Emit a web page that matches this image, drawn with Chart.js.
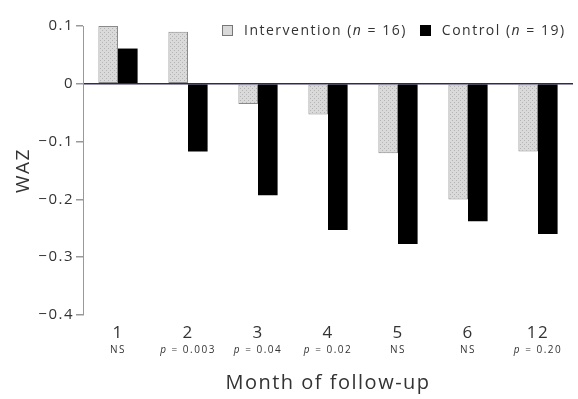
<!DOCTYPE html>
<html>
<head>
<meta charset="utf-8">
<script src="https://cdn.jsdelivr.net/npm/chart.js@4/dist/chart.umd.min.js"></script>
<style>
    html, body { margin: 0; padding: 0; background: #fff; }
    #wrap { position: relative; width: 578px; height: 399px; }
    #legend {
        position: absolute; top: 20px; left: 222px;
        font-family: "Open Sans", sans-serif; font-size: 14px; color: #333;
        letter-spacing: 1.5px; white-space: nowrap;
    }
    #legend span.box {
        display: inline-block; width: 11px; height: 11px; vertical-align: -1px;
        margin-right: 11px; box-sizing: border-box;
    }
    #legend .int { background: #d9d9d9; border: 1px solid #777; }
    #legend .ctl { background: #000; margin-left: 13px; }
</style>
</head>
<body>
<div id="wrap">
    <canvas id="chart" width="578" height="399"></canvas>
    <div id="legend">
        <span class="box int"></span>Intervention (<i>n</i> = 16)<span class="box ctl"></span>Control (<i>n</i> = 19)
    </div>
</div>
<script>
// Dados do gráfico
const months = ['1', '2', '3', '4', '5', '6', '12'];
const pValues = ['NS', 'p = 0.003', 'p = 0.04', 'p = 0.02', 'NS', 'NS', 'p = 0.20'];
const intervention = [0.10, 0.09, -0.035, -0.053, -0.12, -0.20, -0.117];
const control = [0.061, -0.117, -0.193, -0.253, -0.277, -0.238, -0.26];
const yTicks = [0.1, 0, -0.1, -0.2, -0.3, -0.4];

const FONT = '"Open Sans", sans-serif';

// Padrão pontilhado das barras de intervenção
function makePattern() {
    const c = document.createElement('canvas');
    c.width = 4; c.height = 4;
    const g = c.getContext('2d');
    g.fillStyle = '#dadada';
    g.fillRect(0, 0, 4, 4);
    g.fillStyle = '#b4b4b4';
    g.fillRect(0, 0, 1, 1);
    g.fillRect(2, 2, 1, 1);
    return g.createPattern(c, 'repeat');
}

// Espaçamento entre letras um pouco mais largo, como no original
const spacing = {
    id: 'spacing',
    beforeDraw(chart) { chart.ctx.letterSpacing = '1.5px'; }
};

// Plugin para escrever os valores de p abaixo dos meses (p em itálico)
const pLabels = {
    id: 'pLabels',
    afterDraw(chart) {
        const ctx = chart.ctx;
        const x = chart.scales.x;
        const y = 350;
        ctx.save();
        ctx.letterSpacing = '1.5px';
        ctx.fillStyle = '#333';
        ctx.textAlign = 'left';
        ctx.textBaseline = 'middle';
        pValues.forEach((p, i) => {
            const cx = x.getPixelForValue(i);
            if (p.startsWith('p')) {
                const rest = p.slice(1);
                ctx.font = 'italic 10px ' + FONT;
                const w1 = ctx.measureText('p').width;
                ctx.font = '10px ' + FONT;
                const w2 = ctx.measureText(rest).width;
                const sx = cx - (w1 + w2) / 2;
                ctx.font = 'italic 10px ' + FONT;
                ctx.fillText('p', sx, y);
                ctx.font = '10px ' + FONT;
                ctx.fillText(rest, sx + w1, y);
            } else {
                ctx.font = '10px ' + FONT;
                const w = ctx.measureText(p).width;
                ctx.fillText(p, cx - w / 2, y);
            }
        });
        ctx.restore();
    }
};

new Chart(document.getElementById('chart').getContext('2d'), {
    type: 'bar',
    data: {
        labels: months,
        datasets: [{
            label: 'Intervention',
            data: intervention,
            backgroundColor: makePattern(),
            borderColor: '#8a8a8a',
            borderWidth: 1,
            borderSkipped: false
        }, {
            label: 'Control',
            data: control,
            backgroundColor: '#000'
        }]
    },
    options: {
        responsive: false,
        animation: false,
        layout: { padding: { top: 26, right: 5, left: 8, bottom: 0 } },
        datasets: { bar: { categoryPercentage: 0.56, barPercentage: 1 } },
        plugins: { legend: { display: false }, tooltip: { enabled: false } },
        scales: {
            x: {
                grid: { display: false },
                border: { display: false },
                ticks: { color: '#333', font: { family: FONT, size: 17 }, padding: 0 },
                title: {
                    display: true, text: 'Month of follow-up', color: '#333',
                    font: { family: FONT, size: 20 }, padding: { top: 20 }
                },
                afterFit(scale) { scale.height = 84; }
            },
            y: {
                min: -0.4, max: 0.1,
                afterBuildTicks(scale) { scale.ticks = yTicks.map(v => ({ value: v })); },
                grid: {
                    color: ctx => ctx.tick && ctx.tick.value === 0 ? '#2e2a5a' : 'rgba(0,0,0,0)',
                    lineWidth: 1.5,
                    tickColor: '#999',
                    tickLength: 7
                },
                border: { display: true, color: '#999' },
                ticks: {
                    color: '#333', font: { family: FONT, size: 15 }, padding: 2,
                    callback: v => v === 0 ? '0' : (v < 0 ? '\u2212' + Math.abs(v).toFixed(1) : v.toFixed(1))
                },
                title: {
                    display: true, text: 'WAZ', color: '#333',
                    font: { family: FONT, size: 19 }, padding: { bottom: 0 }
                },
                afterFit(scale) { scale.width = 75; }
            }
        }
    },
    plugins: [spacing, pLabels]
});
</script>
</body>
</html>
